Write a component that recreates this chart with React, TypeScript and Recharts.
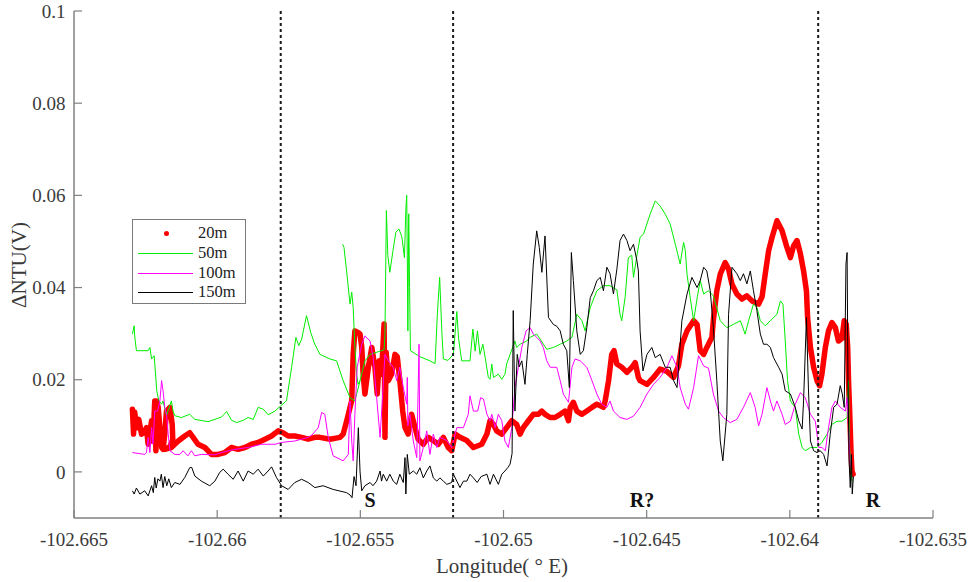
import React from 'react';
import { LineChart, Line, XAxis, YAxis, ReferenceLine, ReferenceDot } from 'recharts';

const xTicks = [-102.665, -102.66, -102.655, -102.65, -102.645, -102.64, -102.635];
const yTicks = [0, 0.02, 0.04, 0.06, 0.08, 0.1];
const xDomain: [number, number] = [-102.665, -102.635];
const yDomain: [number, number] = [-0.01, 0.1];
const dividerLons = [-102.65778, -102.65176, -102.63901];
const annotationLabels = ['S', 'R?', 'R'];
const annotationLons = [-102.65466, -102.64516, -102.6371];
const annotationVals = [-0.006, -0.006, -0.006];
const seriesNames = ['20m', '50m', '100m', '150m'];
const seriesColors = ['#ff0000', '#00ee00', '#ff00ff', '#000000'];

const depth20: [number, number][] = [
  [-102.66296, 0.0136], [-102.66292, 0.0082], [-102.66288, 0.013], [-102.66282, 0.0096], [-102.66274, 0.0114],
  [-102.66264, 0.0082], [-102.66256, 0.0085], [-102.66247, 0.0096], [-102.66241, 0.006], [-102.66235, 0.0085],
  [-102.66229, 0.0111], [-102.66224, 0.0067], [-102.66218, 0.0154], [-102.66214, 0.0046], [-102.66211, 0.0154],
  [-102.66206, 0.014], [-102.662, 0.0096], [-102.66194, 0.0053], [-102.66189, 0.0049], [-102.66183, 0.0082],
  [-102.66177, 0.0132], [-102.66165, 0.014], [-102.66157, 0.0103], [-102.66155, 0.007], [-102.66165, 0.0055],
  [-102.66183, 0.0049], [-102.6616, 0.0053], [-102.66136, 0.0067], [-102.66113, 0.0078], [-102.66096, 0.0085],
  [-102.66084, 0.0075], [-102.66067, 0.006], [-102.66043, 0.0053], [-102.6602, 0.0038], [-102.65997, 0.0038],
  [-102.65973, 0.0042], [-102.6595, 0.0053], [-102.65927, 0.0049], [-102.65903, 0.0053], [-102.6588, 0.006],
  [-102.65857, 0.0064], [-102.65833, 0.0071], [-102.6581, 0.0078], [-102.65787, 0.0089], [-102.6577, 0.0085],
  [-102.65752, 0.0078], [-102.65729, 0.0078], [-102.65705, 0.0075], [-102.65682, 0.0071], [-102.65659, 0.0075],
  [-102.65641, 0.0075], [-102.65606, 0.0071], [-102.65571, 0.0075], [-102.6556, 0.0082], [-102.65548, 0.011],
  [-102.65542, 0.0125], [-102.6553, 0.0155], [-102.65525, 0.0255], [-102.65519, 0.0306], [-102.65507, 0.0302],
  [-102.65501, 0.0299], [-102.65495, 0.027], [-102.6549, 0.021], [-102.65484, 0.0169], [-102.65472, 0.0227],
  [-102.6546, 0.027], [-102.65449, 0.0227], [-102.65441, 0.0169], [-102.65434, 0.0241], [-102.65426, 0.0212],
  [-102.65417, 0.0321], [-102.65414, 0.0075], [-102.6541, 0.026], [-102.65402, 0.0198], [-102.65391, 0.0212],
  [-102.65379, 0.0255], [-102.65371, 0.025], [-102.65362, 0.0198], [-102.65352, 0.0132], [-102.65344, 0.0096],
  [-102.65333, 0.0082], [-102.65321, 0.0125], [-102.65309, 0.0096], [-102.65298, 0.0071], [-102.6528, 0.006],
  [-102.65263, 0.0075], [-102.65245, 0.0068], [-102.65228, 0.006], [-102.6521, 0.0075], [-102.65193, 0.0053],
  [-102.65181, 0.0046], [-102.65169, 0.0082], [-102.65152, 0.0075], [-102.65128, 0.0068], [-102.65105, 0.0053],
  [-102.65076, 0.006], [-102.65058, 0.0082], [-102.65047, 0.0111], [-102.65035, 0.0103], [-102.65024, 0.0089],
  [-102.65006, 0.0082], [-102.64989, 0.0096], [-102.64971, 0.0111], [-102.64954, 0.0103], [-102.64942, 0.0082],
  [-102.64931, 0.0096], [-102.64913, 0.0111], [-102.64896, 0.0125], [-102.64878, 0.0125], [-102.64866, 0.0132],
  [-102.64855, 0.0125], [-102.64837, 0.0118], [-102.6482, 0.0118], [-102.64802, 0.0125], [-102.64785, 0.0132],
  [-102.64773, 0.0111], [-102.64767, 0.014], [-102.64756, 0.0151], [-102.64744, 0.0132], [-102.64726, 0.0125],
  [-102.64709, 0.0132], [-102.64691, 0.014], [-102.64674, 0.0147], [-102.64651, 0.014], [-102.64645, 0.0154],
  [-102.64633, 0.0198], [-102.64622, 0.0255], [-102.64614, 0.0263], [-102.64604, 0.0234], [-102.64587, 0.0227],
  [-102.64569, 0.0216], [-102.64552, 0.0227], [-102.6454, 0.0237], [-102.64529, 0.0205], [-102.64523, 0.0198],
  [-102.64499, 0.019], [-102.64476, 0.0205], [-102.64453, 0.0223], [-102.64429, 0.0218], [-102.64406, 0.0205],
  [-102.64389, 0.023], [-102.64377, 0.0277], [-102.64359, 0.0306], [-102.64336, 0.0328], [-102.64324, 0.032],
  [-102.64313, 0.0263], [-102.64301, 0.0255], [-102.6429, 0.027], [-102.64272, 0.0292], [-102.64267, 0.033],
  [-102.64255, 0.0393], [-102.64243, 0.0429], [-102.64226, 0.0454], [-102.64214, 0.044], [-102.64202, 0.0407],
  [-102.64185, 0.0386], [-102.64167, 0.0375], [-102.6415, 0.0382], [-102.64132, 0.0371], [-102.64109, 0.0364],
  [-102.64097, 0.038], [-102.64086, 0.0429], [-102.64074, 0.048], [-102.64062, 0.0509], [-102.64045, 0.0545],
  [-102.64027, 0.0523], [-102.6401, 0.0487], [-102.63998, 0.0465], [-102.63987, 0.049], [-102.63975, 0.0502],
  [-102.63963, 0.0473], [-102.63952, 0.0436], [-102.63942, 0.0393], [-102.63938, 0.0335], [-102.63928, 0.027],
  [-102.63917, 0.0227], [-102.63905, 0.0198], [-102.63896, 0.0187], [-102.63888, 0.0212], [-102.63876, 0.027],
  [-102.63865, 0.0306], [-102.63853, 0.0324], [-102.63841, 0.0313], [-102.6383, 0.0284], [-102.63818, 0.029],
  [-102.6381, 0.0328], [-102.63803, 0.032], [-102.63798, 0.027], [-102.63795, 0.0198], [-102.63791, 0.013],
  [-102.63786, 0.0038], [-102.63783, 0.0002], [-102.63779, -0.0005],
];

const depth50: [number, number][] = [
  [-102.66296, 0.0299], [-102.6629, 0.0317], [-102.66288, 0.0295], [-102.66282, 0.0263], [-102.66241, 0.0263],
  [-102.66235, 0.027], [-102.66229, 0.0245], [-102.6622, 0.0252], [-102.66217, 0.0227], [-102.66211, 0.0176],
  [-102.66204, 0.0155], [-102.66194, 0.0147], [-102.66189, 0.0154], [-102.66177, 0.0122], [-102.6616, 0.0154],
  [-102.66154, 0.0132], [-102.66148, 0.0122], [-102.66125, 0.0118], [-102.66096, 0.0125], [-102.66078, 0.0114],
  [-102.66032, 0.0109], [-102.65985, 0.0119], [-102.65967, 0.0131], [-102.6595, 0.0112], [-102.65932, 0.0107],
  [-102.65909, 0.0112], [-102.65892, 0.0118], [-102.65874, 0.0114], [-102.65857, 0.014], [-102.65839, 0.0136],
  [-102.65822, 0.0124], [-102.65798, 0.0132], [-102.65779, 0.0143], [-102.65758, 0.0154], [-102.6574, 0.0227],
  [-102.65725, 0.0292], [-102.65715, 0.0274], [-102.65705, 0.0288], [-102.65688, 0.0339], [-102.65673, 0.0302],
  [-102.65659, 0.0277], [-102.65641, 0.0255], [-102.65606, 0.0245], [-102.65583, 0.0241], [-102.6556, 0.0198],
  [-102.65536, 0.0161], [-102.65519, 0.0154], [-102.65501, 0.0198], [-102.65484, 0.0241], [-102.65466, 0.0255],
  [-102.65431, 0.0262], [-102.65417, 0.0265], [-102.65414, 0.03], [-102.65409, 0.0567], [-102.65404, 0.047],
  [-102.65397, 0.0433], [-102.65386, 0.048], [-102.65376, 0.052], [-102.65365, 0.0527], [-102.65355, 0.051],
  [-102.65346, 0.0465], [-102.65341, 0.057], [-102.65338, 0.06], [-102.65336, 0.047], [-102.65334, 0.0306],
  [-102.65331, 0.056], [-102.65328, 0.04], [-102.65325, 0.0263], [-102.65292, 0.025], [-102.65257, 0.0241],
  [-102.65239, 0.0235], [-102.65231, 0.0342], [-102.65223, 0.0422], [-102.65215, 0.03], [-102.6521, 0.0245],
  [-102.65194, 0.0242], [-102.65175, 0.0255], [-102.65163, 0.0348], [-102.65157, 0.029], [-102.65146, 0.0241],
  [-102.65117, 0.0241], [-102.65107, 0.031], [-102.65099, 0.0262], [-102.65091, 0.0306], [-102.65082, 0.0255],
  [-102.65072, 0.0277], [-102.65064, 0.0248], [-102.65053, 0.0205], [-102.65047, 0.0201], [-102.65041, 0.0234],
  [-102.65035, 0.0205], [-102.65018, 0.0212], [-102.65006, 0.0201], [-102.64995, 0.0212], [-102.64989, 0.0234],
  [-102.64977, 0.0255], [-102.6496, 0.0284], [-102.64954, 0.027], [-102.64942, 0.0277], [-102.64919, 0.0284],
  [-102.64907, 0.0292], [-102.64884, 0.0299], [-102.64872, 0.0288], [-102.64849, 0.0266], [-102.64826, 0.027],
  [-102.64802, 0.0277], [-102.64779, 0.0284], [-102.64761, 0.0292], [-102.64744, 0.0342], [-102.64726, 0.0328],
  [-102.64715, 0.0306], [-102.64697, 0.0357], [-102.64674, 0.0393], [-102.64651, 0.0404], [-102.64628, 0.0404],
  [-102.64604, 0.0395], [-102.64593, 0.0342], [-102.64587, 0.0328], [-102.64575, 0.038], [-102.64564, 0.0465],
  [-102.64552, 0.047], [-102.64546, 0.0422], [-102.64534, 0.047], [-102.64523, 0.0509], [-102.64511, 0.0516],
  [-102.64488, 0.0559], [-102.6447, 0.0588], [-102.64453, 0.0577], [-102.64435, 0.0559], [-102.64418, 0.0538],
  [-102.644, 0.0494], [-102.64383, 0.0451], [-102.64371, 0.0498], [-102.64365, 0.048], [-102.64359, 0.0429],
  [-102.64348, 0.0378], [-102.64336, 0.0328], [-102.64323, 0.038], [-102.64313, 0.0415], [-102.64301, 0.0386],
  [-102.64285, 0.0393], [-102.64267, 0.0382], [-102.64243, 0.0328], [-102.6422, 0.0313], [-102.64197, 0.032],
  [-102.64173, 0.0328], [-102.64156, 0.0299], [-102.64144, 0.0328], [-102.64127, 0.0364], [-102.64115, 0.0357],
  [-102.64103, 0.0328], [-102.64086, 0.0317], [-102.64068, 0.0328], [-102.64045, 0.0342], [-102.64033, 0.0371],
  [-102.64024, 0.0364], [-102.64016, 0.0284], [-102.64008, 0.0198], [-102.63998, 0.0154], [-102.63981, 0.014],
  [-102.63969, 0.0082], [-102.63957, 0.0053], [-102.63946, 0.0046], [-102.63928, 0.0053], [-102.63905, 0.0053],
  [-102.63888, 0.0064], [-102.6387, 0.0082], [-102.63853, 0.0103], [-102.63835, 0.011], [-102.63818, 0.011],
  [-102.638, 0.0118], [-102.63795, 0.0198], [-102.63792, 0.006], [-102.63786, 0.0], [-102.63783, -0.002],
];

const depth50Fragment: [number, number][] = [
  [-102.65562, 0.0494], [-102.65557, 0.0487], [-102.65548, 0.0436], [-102.65536, 0.0364], [-102.6553, 0.039],
  [-102.65525, 0.0357], [-102.65519, 0.027], [-102.65513, 0.0212], [-102.65508, 0.019], [-102.65501, 0.0198],
];

const depth100: [number, number][] = [
  [-102.66296, 0.0042], [-102.66253, 0.0038], [-102.66247, 0.0042], [-102.66241, 0.0075], [-102.66235, 0.0042],
  [-102.66229, 0.0096], [-102.66224, 0.006], [-102.66218, 0.0132], [-102.66208, 0.0132], [-102.662, 0.0154],
  [-102.66194, 0.0198], [-102.66189, 0.0176], [-102.66183, 0.014], [-102.66177, 0.0125], [-102.66171, 0.0082],
  [-102.66165, 0.0046], [-102.66148, 0.0038], [-102.6613, 0.0038], [-102.66119, 0.0046], [-102.66102, 0.0035],
  [-102.6609, 0.0046], [-102.66078, 0.0035], [-102.66055, 0.0038], [-102.66008, 0.0037], [-102.65985, 0.0042],
  [-102.65938, 0.0049], [-102.65892, 0.0053], [-102.65845, 0.006], [-102.65798, 0.006], [-102.65775, 0.0064],
  [-102.65729, 0.0067], [-102.65682, 0.0075], [-102.65669, 0.008], [-102.65647, 0.0096], [-102.65635, 0.0129],
  [-102.65624, 0.0125], [-102.65612, 0.0075], [-102.65595, 0.0035], [-102.6556, 0.0024], [-102.65542, 0.0038],
  [-102.65536, 0.0154], [-102.6553, 0.0067], [-102.65525, 0.0024], [-102.65519, 0.0125], [-102.65511, 0.0227],
  [-102.65495, 0.0277], [-102.65484, 0.0295], [-102.65466, 0.0284], [-102.65455, 0.0248], [-102.65443, 0.0161],
  [-102.65431, 0.0075], [-102.65422, 0.0168], [-102.65414, 0.0255], [-102.65402, 0.0241], [-102.65385, 0.0227],
  [-102.65373, 0.0198], [-102.65362, 0.0227], [-102.6535, 0.0183], [-102.65338, 0.0147], [-102.65336, 0.0205],
  [-102.65334, 0.01], [-102.65327, 0.0125], [-102.65315, 0.0067], [-102.65303, 0.0031], [-102.65298, 0.018],
  [-102.65295, 0.0277], [-102.65292, 0.0024], [-102.6528, 0.0053], [-102.65268, 0.0089], [-102.65257, 0.0038],
  [-102.65245, 0.0082], [-102.65233, 0.0053], [-102.65222, 0.0075], [-102.65198, 0.0068], [-102.65181, 0.0053],
  [-102.65163, 0.0096], [-102.6514, 0.0096], [-102.65123, 0.0125], [-102.65117, 0.0165], [-102.65105, 0.0132],
  [-102.6509, 0.0132], [-102.6508, 0.0161], [-102.6507, 0.0158], [-102.65058, 0.0125], [-102.65047, 0.0111],
  [-102.65041, 0.0125], [-102.65029, 0.0096], [-102.65018, 0.0125], [-102.65006, 0.0111], [-102.64995, 0.0067],
  [-102.64983, 0.0053], [-102.64971, 0.0096], [-102.6496, 0.0183], [-102.64948, 0.0227], [-102.64936, 0.027],
  [-102.64921, 0.0306], [-102.64907, 0.0313], [-102.64896, 0.0299], [-102.64884, 0.0292], [-102.64872, 0.0284],
  [-102.64861, 0.027], [-102.64849, 0.0241], [-102.64837, 0.0227], [-102.64814, 0.0227], [-102.64802, 0.0198],
  [-102.64791, 0.0169], [-102.64773, 0.0151], [-102.64761, 0.0227], [-102.6475, 0.0245], [-102.64732, 0.0241],
  [-102.64709, 0.0227], [-102.64691, 0.0198], [-102.64674, 0.0169], [-102.64657, 0.0147], [-102.64639, 0.014],
  [-102.64628, 0.0154], [-102.64616, 0.0132], [-102.64593, 0.0118], [-102.64569, 0.0114], [-102.64546, 0.0121],
  [-102.64523, 0.014], [-102.64499, 0.0169], [-102.64476, 0.019], [-102.64453, 0.0205], [-102.64429, 0.0227],
  [-102.64412, 0.0252], [-102.64394, 0.0227], [-102.64383, 0.0183], [-102.64365, 0.0147], [-102.64354, 0.0136],
  [-102.64336, 0.0183], [-102.64319, 0.0252], [-102.64301, 0.023], [-102.64284, 0.0225], [-102.64267, 0.0169],
  [-102.64249, 0.0132], [-102.64232, 0.0118], [-102.64208, 0.0107], [-102.64185, 0.0114], [-102.64162, 0.014],
  [-102.64138, 0.0172], [-102.64121, 0.014], [-102.64109, 0.01], [-102.64097, 0.0125], [-102.6408, 0.0183],
  [-102.64068, 0.0154], [-102.64057, 0.0132], [-102.64045, 0.0154], [-102.64027, 0.0125], [-102.64016, 0.0103],
  [-102.63998, 0.011], [-102.63981, 0.0147], [-102.63963, 0.0172], [-102.63946, 0.0161], [-102.63928, 0.0125],
  [-102.63911, 0.011], [-102.63899, 0.0053], [-102.63888, 0.0053], [-102.63876, 0.0046], [-102.63865, 0.0096],
  [-102.63853, 0.014], [-102.63841, 0.0154], [-102.63824, 0.014], [-102.63806, 0.0132], [-102.638, 0.0161],
  [-102.63795, 0.0096], [-102.63789, 0.0009],
];

const depth150: [number, number][] = [
  [-102.66296, -0.0041], [-102.6629, -0.0048], [-102.66282, -0.0035], [-102.6627, -0.0048], [-102.66253, -0.0041],
  [-102.66241, -0.0052], [-102.66229, -0.003], [-102.66223, -0.0045], [-102.66218, -0.0012], [-102.66213, -0.0035],
  [-102.66207, -0.0015], [-102.662, -0.002], [-102.66195, -0.0005], [-102.66189, -0.0034], [-102.66183, -0.001],
  [-102.66176, -0.003], [-102.66169, -0.0015], [-102.6616, -0.0034], [-102.66148, -0.0023], [-102.6613, -0.0027],
  [-102.66113, -0.0012], [-102.66096, 0.0009], [-102.66089, 0.001], [-102.66078, -0.0009], [-102.66055, -0.002],
  [-102.66026, -0.003], [-102.66008, -0.002], [-102.65991, -0.0001], [-102.65979, 0.0006], [-102.65962, -0.0005],
  [-102.65944, -0.0016], [-102.65927, 0.0002], [-102.65909, -0.002], [-102.65892, 0.0002], [-102.65874, -0.0005],
  [-102.65857, 0.0006], [-102.65839, -0.0009], [-102.65822, 0.0002], [-102.6581, 0.0011], [-102.65793, -0.0012],
  [-102.65775, -0.003], [-102.65752, -0.0038], [-102.65729, -0.0023], [-102.65705, -0.0016], [-102.65682, -0.0023],
  [-102.65659, -0.0034], [-102.6563, -0.003], [-102.65595, -0.0038], [-102.65548, -0.0045], [-102.65536, -0.005],
  [-102.65529, -0.0056], [-102.65522, -0.001], [-102.65515, -0.003], [-102.65507, 0.0096], [-102.65501, 0.0],
  [-102.65495, -0.0041], [-102.65484, -0.003], [-102.65466, -0.0023], [-102.65456, -0.003], [-102.65443, -0.002],
  [-102.65431, 0.0002], [-102.65426, -0.002], [-102.6542, -0.0005], [-102.65408, -0.002], [-102.65397, -0.0005],
  [-102.65385, -0.002], [-102.65373, -0.0027], [-102.65362, -0.0005], [-102.6535, -0.0023], [-102.65344, 0.0031],
  [-102.65341, -0.0048], [-102.65336, 0.0038], [-102.65329, -0.0005], [-102.65315, 0.0002], [-102.65303, -0.0005],
  [-102.65292, 0.0009], [-102.6528, -0.0013], [-102.65268, 0.0002], [-102.65257, 0.0013], [-102.65245, -0.0013],
  [-102.65233, -0.002], [-102.65222, -0.0013], [-102.6521, -0.002], [-102.65198, -0.0027], [-102.65181, -0.0023],
  [-102.65175, -0.0005], [-102.65163, -0.002], [-102.65152, -0.0034], [-102.6514, -0.002], [-102.65128, -0.002],
  [-102.65117, -0.0005], [-102.65105, -0.0013], [-102.65092, -0.0023], [-102.65078, -0.001], [-102.65058, -0.0005],
  [-102.65047, -0.0027], [-102.65035, -0.0005], [-102.65018, -0.0027], [-102.65006, -0.0005], [-102.64995, 0.0002],
  [-102.64984, 0.001], [-102.64977, 0.0017], [-102.6497, 0.004], [-102.64966, 0.035], [-102.6496, 0.0132],
  [-102.64952, 0.0255], [-102.64945, 0.0228], [-102.64936, 0.0241], [-102.64925, 0.019], [-102.64917, 0.0255],
  [-102.64907, 0.0328], [-102.64896, 0.0451], [-102.64884, 0.0523], [-102.64875, 0.0487], [-102.64866, 0.0433],
  [-102.64855, 0.0512], [-102.64843, 0.0335], [-102.64826, 0.032], [-102.64814, 0.0316], [-102.64802, 0.0306],
  [-102.64791, 0.0277], [-102.64779, 0.0263], [-102.6477, 0.0183], [-102.64763, 0.0476], [-102.64756, 0.0415],
  [-102.64744, 0.0306], [-102.64732, 0.0255], [-102.64721, 0.0263], [-102.64709, 0.0313], [-102.64697, 0.0378],
  [-102.64686, 0.0393], [-102.64674, 0.0415], [-102.64662, 0.0422], [-102.64651, 0.0393], [-102.64639, 0.0444],
  [-102.64628, 0.043], [-102.64616, 0.0386], [-102.64604, 0.044], [-102.64593, 0.0502], [-102.64581, 0.0516],
  [-102.64569, 0.0502], [-102.64558, 0.048], [-102.64546, 0.0494], [-102.64534, 0.0458], [-102.64529, 0.0436],
  [-102.64523, 0.0306], [-102.64513, 0.0219], [-102.64499, 0.0255], [-102.64482, 0.027], [-102.6447, 0.0248],
  [-102.64453, 0.0255], [-102.64435, 0.0227], [-102.64418, 0.0227], [-102.64406, 0.0198], [-102.64394, 0.0183],
  [-102.64377, 0.0328], [-102.64359, 0.0386], [-102.64342, 0.0422], [-102.64324, 0.04], [-102.64313, 0.0415],
  [-102.64301, 0.0444], [-102.6429, 0.0436], [-102.64278, 0.0393], [-102.64267, 0.0313], [-102.64255, 0.0198],
  [-102.64243, 0.0067], [-102.64234, 0.0024], [-102.6422, 0.0125], [-102.64214, 0.0342], [-102.64202, 0.0444],
  [-102.64185, 0.043], [-102.64173, 0.0415], [-102.64162, 0.043], [-102.6415, 0.0408], [-102.64138, 0.0436],
  [-102.64127, 0.0393], [-102.64115, 0.035], [-102.64103, 0.0299], [-102.64092, 0.0277], [-102.6408, 0.0277],
  [-102.64068, 0.027], [-102.64057, 0.0248], [-102.64039, 0.0227], [-102.64027, 0.0212], [-102.64016, 0.0176],
  [-102.63998, 0.0169], [-102.63981, 0.014], [-102.63969, 0.0111], [-102.63957, 0.0093], [-102.63952, 0.0154],
  [-102.63942, 0.0335], [-102.63935, 0.018], [-102.63928, 0.0067], [-102.63917, 0.0046], [-102.63905, 0.0042],
  [-102.63894, 0.0046], [-102.63882, 0.0038], [-102.6387, 0.0013], [-102.63859, 0.0082], [-102.63847, 0.014],
  [-102.63835, 0.0147], [-102.63824, 0.0187], [-102.63817, 0.017], [-102.6381, 0.014], [-102.63804, 0.0451],
  [-102.638, 0.0476], [-102.63797, 0.0198], [-102.63793, 0.0024], [-102.63789, -0.0034], [-102.63785, 0.0038],
  [-102.63782, -0.0048], [-102.63778, -0.001],
];

const toRows = (pairs: [number, number][]) => pairs.map(([x, y]) => ({ x, y }));

const serif = '"Liberation Serif", "DejaVu Serif", serif';

const AnnoLabel = (props: any) => {
  const vb = props.viewBox || {};
  const cx = (vb.x ?? 0) + (vb.width ?? 0) / 2;
  const cy = (vb.y ?? 0) + (vb.height ?? 0) / 2;
  return (
    <text x={cx} y={cy} textAnchor="middle" dominantBaseline="central" fontFamily={serif} fontWeight="bold" fontSize={20} fill="#111">
      {props.text}
    </text>
  );
};

export default function App() {
  const axisStroke = '#808080';
  const tickStyle = { fontFamily: serif, fontSize: 19, fill: '#3a3a3a' };
  const legendRows = seriesNames.map((n, i) => ({ n, c: seriesColors[i] }));
  return (
    <div style={{ position: 'absolute', left: 0, top: 0, width: 977, height: 582, background: '#fff' }}>
      <LineChart width={977} height={582} margin={{ top: 11, right: 44, bottom: 0, left: 0 }}>
        <XAxis
          xAxisId="b"
          type="number"
          dataKey="x"
          domain={xDomain}
          ticks={xTicks}
          allowDataOverflow
          height={64}
          tickSize={-8}
          tickMargin={23}
          tick={tickStyle}
          tickFormatter={(v: number) => String(v)}
          stroke={axisStroke}
          axisLine={{ stroke: axisStroke, strokeWidth: 1.5 }}
          tickLine={{ stroke: axisStroke, strokeWidth: 1.2 }}
        />
        <XAxis
          xAxisId="t"
          orientation="top"
          type="number"
          dataKey="x"
          domain={xDomain}
          ticks={xTicks}
          allowDataOverflow
          height={0}
          tickSize={-8}
          tick={false}
          axisLine={{ stroke: axisStroke, strokeWidth: 1.5 }}
          tickLine={{ stroke: axisStroke, strokeWidth: 1.2 }}
        />
        <YAxis
          yAxisId="l"
          type="number"
          domain={yDomain}
          ticks={yTicks}
          allowDataOverflow
          width={74}
          tickSize={-8}
          tickMargin={16.5}
          tick={tickStyle}
          tickFormatter={(v: number) => String(v)}
          axisLine={{ stroke: axisStroke, strokeWidth: 1.5 }}
          tickLine={{ stroke: axisStroke, strokeWidth: 1.2 }}
        />
        <YAxis
          yAxisId="r"
          orientation="right"
          type="number"
          domain={yDomain}
          ticks={yTicks}
          allowDataOverflow
          width={0}
          tickSize={-8}
          tick={false}
          axisLine={{ stroke: axisStroke, strokeWidth: 1.5 }}
          tickLine={{ stroke: axisStroke, strokeWidth: 1.2 }}
        />
        <Line xAxisId="b" yAxisId="l" data={toRows(depth20)} dataKey="y" type="linear" stroke={seriesColors[0]} strokeWidth={5.5} strokeLinejoin="round" strokeLinecap="round" dot={false} activeDot={false} isAnimationActive={false} />
        <Line xAxisId="b" yAxisId="l" data={toRows(depth50)} dataKey="y" type="linear" stroke={seriesColors[1]} strokeWidth={1} dot={false} activeDot={false} isAnimationActive={false} />
        <Line xAxisId="b" yAxisId="l" data={toRows(depth50Fragment)} dataKey="y" type="linear" stroke={seriesColors[1]} strokeWidth={1} dot={false} activeDot={false} isAnimationActive={false} />
        <Line xAxisId="b" yAxisId="l" data={toRows(depth100)} dataKey="y" type="linear" stroke={seriesColors[2]} strokeWidth={1} dot={false} activeDot={false} isAnimationActive={false} />
        <Line xAxisId="b" yAxisId="l" data={toRows(depth150)} dataKey="y" type="linear" stroke={seriesColors[3]} strokeWidth={1} dot={false} activeDot={false} isAnimationActive={false} />
        {dividerLons.map((x) => (
          <ReferenceLine key={x} xAxisId="b" yAxisId="l" x={x} stroke="#1a1a1a" strokeWidth={2} strokeDasharray="3 3" />
        ))}
        {annotationLabels.map((t, i) => (
          <ReferenceDot
            key={t}
            xAxisId="b"
            yAxisId="l"
            x={annotationLons[i]}
            y={annotationVals[i]}
            r={0.01}
            fill="none"
            stroke="none"
            label={<AnnoLabel text={t} />}
          />
        ))}
      </LineChart>

      <div style={{ position: 'absolute', left: 132, top: 219, width: 114, height: 85, border: '1.5px solid #7a7a7a', boxSizing: 'border-box', background: '#fff' }}>
        {legendRows.map((r, i) => (
          <div key={r.n} style={{ position: 'absolute', left: 0, top: 3 + i * 19.8, width: 110, height: 20 }}>
            {i === 0 ? (
              <div style={{ position: 'absolute', left: 31, top: 8, width: 5, height: 5, borderRadius: 3, background: r.c }} />
            ) : (
              <div style={{ position: 'absolute', left: 5, top: 10, width: 55, height: 1, background: r.c }} />
            )}
            <span style={{ position: 'absolute', left: 65, top: 0, fontFamily: serif, fontSize: 16.5, lineHeight: '20px', color: '#222' }}>{r.n}</span>
          </div>
        ))}
      </div>

      <div style={{ position: 'absolute', left: 19, top: 265, transform: 'translate(-50%, -50%) rotate(-90deg)', fontFamily: serif, fontSize: 21, color: '#3a3a3a', whiteSpace: 'nowrap' }}>
        ΔNTU(V)
      </div>
      <div style={{ position: 'absolute', left: 502, top: 566, transform: 'translate(-50%, -50%)', fontFamily: serif, fontSize: 21, color: '#3a3a3a', whiteSpace: 'nowrap' }}>
        Longitude( ° E)
      </div>
    </div>
  );
}
